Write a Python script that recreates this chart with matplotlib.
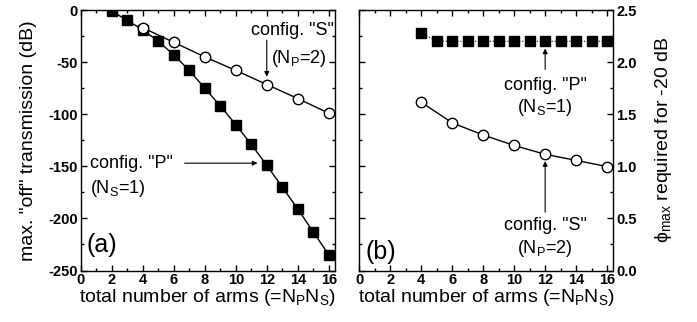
import numpy as np
import matplotlib.pyplot as plt
from matplotlib.ticker import MultipleLocator

plt.rcParams['font.family'] = ['Liberation Sans', 'DejaVu Sans']
plt.rcParams['axes.unicode_minus'] = False
plt.rcParams['mathtext.fontset'] = 'custom'
plt.rcParams['mathtext.rm'] = 'Liberation Sans'
plt.rcParams['mathtext.it'] = 'Liberation Sans'
plt.rcParams['mathtext.bf'] = 'Liberation Sans:bold'

# panel (a): max "off" transmission (dB)
arms_p = [2, 3, 4, 5, 6, 7, 8, 9, 10, 11, 12, 13, 14, 15, 16]
trans_p = [-1, -10, -19, -30, -43, -58, -75, -92, -110, -129, -149, -170, -191, -213, -235]
arms_s = [4, 6, 8, 10, 12, 14, 16]
trans_s = [-17, -31, -45, -58, -71.5, -85, -99]

# panel (b): phi_max required for -20 dB
arms_p_b = [4, 5, 6, 7, 8, 9, 10, 11, 12, 13, 14, 15, 16]
phi_p = [2.28, 2.2, 2.2, 2.2, 2.2, 2.2, 2.2, 2.2, 2.2, 2.2, 2.2, 2.2, 2.2]
arms_s_b = [4, 6, 8, 10, 12, 14, 16]
phi_s = [1.615, 1.417, 1.30, 1.20, 1.115, 1.057, 0.997]

W, H = 697, 322
fig = plt.figure(figsize=(W / 100, H / 100), dpi=100)
ax1 = fig.add_axes([80.7 / W, (H - 270.5) / H, (335 - 80.7) / W, (270.5 - 10) / H])
ax2 = fig.add_axes([359.3 / W, (H - 270.5) / H, (613.3 - 359.3) / W, (270.5 - 10) / H])

tick_fs = 10.5
lab_fs = 14
ann_fs = 13
arrow = dict(arrowstyle='-|>', color='black', lw=0.8, mutation_scale=7,
             shrinkA=0, shrinkB=0)

for ax in (ax1, ax2):
    ax.set_xlim(0, 16.4)
    ax.xaxis.set_major_locator(MultipleLocator(2))
    ax.xaxis.set_minor_locator(MultipleLocator(1))
    ax.tick_params(which='both', direction='in', top=True, right=True, left=True,
                   labelsize=tick_fs, pad=2)
    ax.tick_params(which='major', length=4, width=1)
    ax.tick_params(which='minor', length=2, width=1)
    for lbl in ax.get_xticklabels() + ax.get_yticklabels():
        lbl.set_fontweight('bold')
    for s in ax.spines.values():
        s.set_linewidth(1)
    ax.set_xlabel(r'total number of arms (=N$_\mathregular{P}$N$_\mathregular{S}$)',
                  fontsize=lab_fs, labelpad=0)

# (a)
ax1.plot(arms_p, trans_p, color='black', lw=1, marker='s', ms=6.5,
         mfc='black', mec='black', zorder=3)
ax1.plot(arms_s, trans_s, color='black', lw=1, marker='o', ms=7.5,
         mfc='white', mec='black', zorder=4)
ax1.set_ylim(-250, 0)
ax1.yaxis.set_major_locator(MultipleLocator(50))
ax1.yaxis.set_minor_locator(MultipleLocator(25))
ax1.set_ylabel('max. "off" transmission (dB)', fontsize=lab_fs, labelpad=8)

ax1.annotate('', xy=(12, -64), xytext=(12, -29), arrowprops=arrow)
ax1.text(16.3, -20, 'config. "S"', ha='right', va='center', fontsize=ann_fs)
ax1.text(12.3, -47, r'(N$_\mathregular{P}$=2)', ha='left', va='center', fontsize=ann_fs)

ax1.annotate('', xy=(11.4, -147), xytext=(6.7, -147), arrowprops=arrow)
ax1.text(0.6, -147, 'config. "P"', ha='left', va='center', fontsize=ann_fs)
ax1.text(0.6, -171, r'(N$_\mathregular{S}$=1)', ha='left', va='center', fontsize=ann_fs)
ax1.text(0.4, -237, '(a)', ha='left', va='bottom', fontsize=18)

# (b)
ax2.plot(arms_p_b, phi_p, color='black', lw=0.8, ls=':', marker='s', ms=6.5,
         mfc='black', mec='black', zorder=3)
ax2.plot(arms_s_b, phi_s, color='black', lw=1, marker='o', ms=7.5,
         mfc='white', mec='black', zorder=4)
ax2.set_ylim(0, 2.5)
ax2.yaxis.set_major_locator(MultipleLocator(0.5))
ax2.yaxis.set_minor_locator(MultipleLocator(0.25))
ax2.yaxis.tick_right()
ax2.tick_params(which='both', left=True, labelleft=False, labelright=True)
for lbl in ax2.get_yticklabels():
    lbl.set_fontweight('bold')
ax2.yaxis.set_label_position('right')
ax2.set_ylabel(r'$\mathregular{\phi_{max}}$ required for -20 dB', fontsize=lab_fs, labelpad=12)

ax2.annotate('', xy=(12, 2.13), xytext=(12, 1.93), arrowprops=arrow)
ax2.text(12, 1.78, 'config. "P"', ha='center', va='center', fontsize=ann_fs)
ax2.text(12, 1.56, r'(N$_\mathregular{S}$=1)', ha='center', va='center', fontsize=ann_fs)

ax2.annotate('', xy=(12, 1.05), xytext=(12, 0.56), arrowprops=arrow)
ax2.text(12, 0.43, 'config. "S"', ha='center', va='center', fontsize=ann_fs)
ax2.text(12, 0.21, r'(N$_\mathregular{P}$=2)', ha='center', va='center', fontsize=ann_fs)
ax2.text(0.4, 0.06, '(b)', ha='left', va='bottom', fontsize=18)

fig.savefig('out.png', dpi=100)
